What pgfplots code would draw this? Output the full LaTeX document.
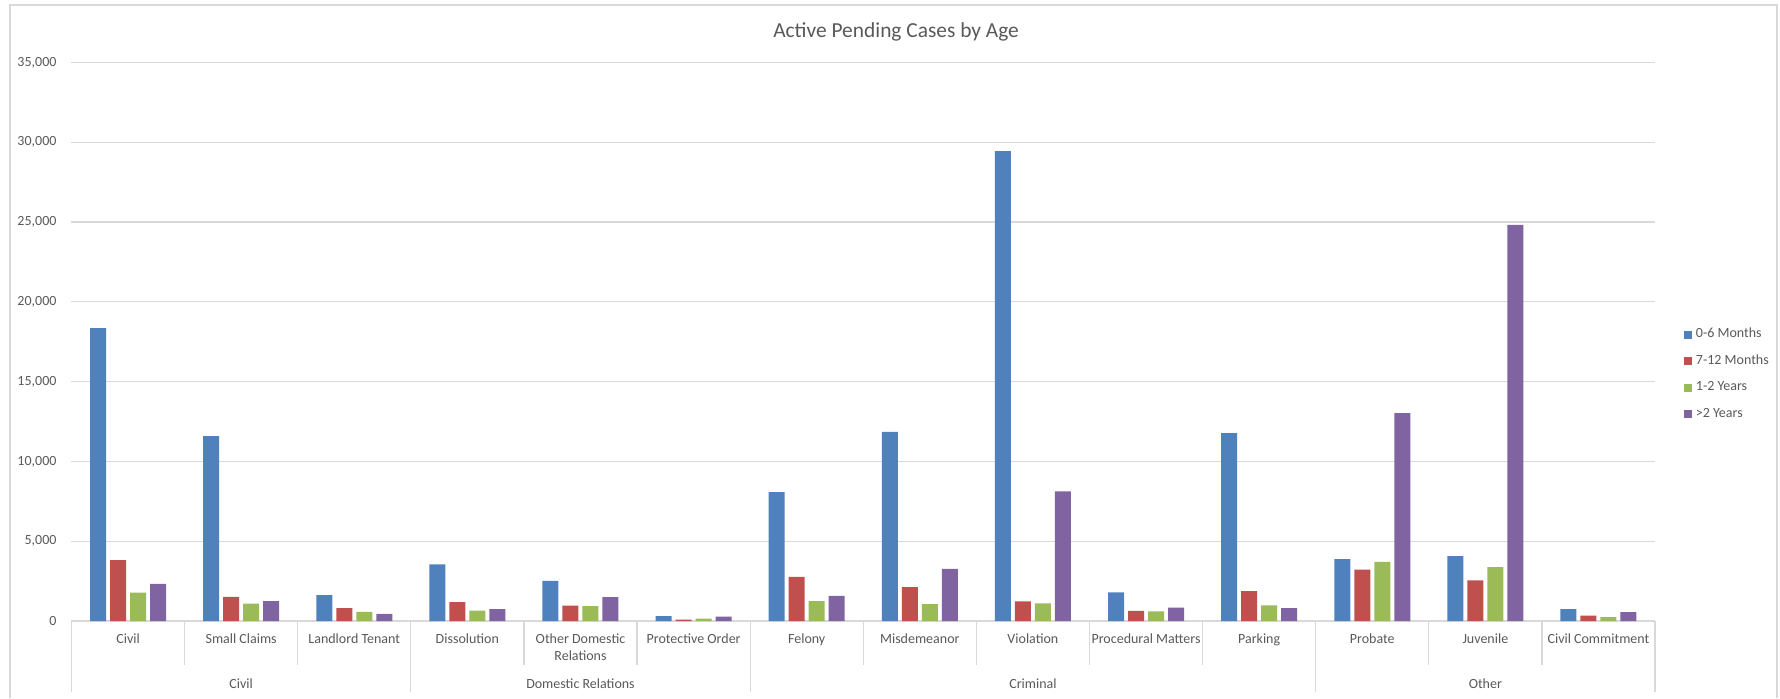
\documentclass[border=0pt]{standalone}
\usepackage{fontspec}
\setmainfont{Carlito}
\usepackage{pgfplots}
\pgfplotsset{compat=1.18}
\definecolor{sBlue}{HTML}{4F81BD}
\definecolor{sRed}{HTML}{C0504D}
\definecolor{sGreen}{HTML}{9BBB59}
\definecolor{sPurple}{HTML}{8064A2}
\definecolor{gridgray}{HTML}{D9D9D9}
\definecolor{txtgray}{HTML}{595959}
\definecolor{framegray}{HTML}{D9D9D9}
\newcommand{\lblfont}{\fontsize{7}{8.4}\selectfont}
\begin{document}
\begin{tikzpicture}
\begin{axis}[
  at={(0,0)}, anchor=south west,
  scale only axis, width=791.75pt, height=279.25pt,
  ybar=2pt, bar width=8pt,
  xmin=-0.5, xmax=13.5, ymin=0, ymax=35000,
  xtick={0,...,13},
  xticklabels={Civil,Small Claims,Landlord Tenant,Dissolution,{Other Domestic\\Relations},Protective Order,Felony,Misdemeanor,Violation,Procedural Matters,Parking,Probate,Juvenile,Civil Commitment},
  ytick={0,5000,...,35000},
  scaled y ticks=false,
  /pgf/number format/1000 sep={,},
  /pgf/number format/assume math mode=true,
  major tick length=0pt,
  axis x line*=bottom, axis y line*=left,
  x axis line style={draw=gridgray, line width=0.6pt, -},
  y axis line style={draw=none},
  ymajorgrids, grid style={draw=gridgray, line width=0.6pt},
  xticklabel style={font=\lblfont, text=txtgray, align=center, anchor=north, yshift=-3pt},
  yticklabel style={font=\lblfont, text=txtgray, anchor=east, xshift=-4pt},
  clip=false,
  legend style={at={(1.018,0.442)}, anchor=west, draw=none, fill=none, font=\lblfont, text=txtgray, row sep=3.05pt, legend cell align=left, inner sep=0pt},
  legend image code/.code={\fill[#1] (0pt,-2pt) rectangle (4pt,2pt);},
]
\addplot[fill=sBlue, draw=none] coordinates {(0,18350) (1,11590) (2,1630) (3,3550) (4,2510) (5,310) (6,8080) (7,11860) (8,29450) (9,1800) (10,11770) (11,3880) (12,4070) (13,750)};
\addplot[fill=sRed, draw=none] coordinates {(0,3820) (1,1520) (2,810) (3,1190) (4,960) (5,80) (6,2760) (7,2130) (8,1230) (9,630) (10,1880) (11,3220) (12,2550) (13,330)};
\addplot[fill=sGreen, draw=none] coordinates {(0,1780) (1,1090) (2,580) (3,650) (4,940) (5,150) (6,1250) (7,1060) (8,1110) (9,610) (10,980) (11,3700) (12,3380) (13,250)};
\addplot[fill=sPurple, draw=none] coordinates {(0,2320) (1,1250) (2,440) (3,750) (4,1500) (5,270) (6,1570) (7,3260) (8,8120) (9,840) (10,810) (11,13030) (12,24820) (13,560)};
\legend{0-6 Months,7-12 Months,1-2 Years,>2 Years}
% category separators
\pgfplotsinvokeforeach{0.5,1.5,3.5,4.5,6.5,7.5,8.5,9.5,11.5,12.5}{
  \draw[gridgray, line width=0.6pt] (axis cs:#1,0) -- ([yshift=-22pt]axis cs:#1,0);
}
\pgfplotsinvokeforeach{-0.5,2.5,5.5,10.5,13.5}{
  \draw[gridgray, line width=0.6pt] (axis cs:#1,0) -- ([yshift=-35.5pt]axis cs:#1,0);
}
\node[font=\lblfont, text=txtgray] at ([yshift=-31.5pt]axis cs:1,0) {Civil};
\node[font=\lblfont, text=txtgray] at ([yshift=-31.5pt]axis cs:4,0) {Domestic Relations};
\node[font=\lblfont, text=txtgray] at ([yshift=-31.5pt]axis cs:8,0) {Criminal};
\node[font=\lblfont, text=txtgray] at ([yshift=-31.5pt]axis cs:12,0) {Other};
\node[font=\fontsize{10.7}{12}\selectfont, text=txtgray, anchor=center] at (rel axis cs:0.5207,1.0546) {Active Pending Cases by Age};
\end{axis}
\draw[framegray, line width=0.6pt] (-30.75pt,-38.5pt) -- (-30.75pt,308pt) -- (852.75pt,308pt) -- (852.75pt,-38.5pt);
\pgfresetboundingbox
\useasboundingbox (-35.75pt,-38.5pt) rectangle (854.25pt,310.5pt);
\end{tikzpicture}
\end{document}
